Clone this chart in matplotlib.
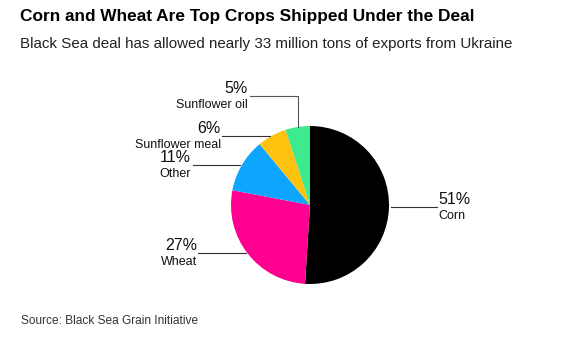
import numpy as np
import matplotlib
matplotlib.use("Agg")
import matplotlib.pyplot as plt

plt.rcParams["font.family"] = ["Liberation Sans", "DejaVu Sans"]

crops = ["Corn", "Wheat", "Other", "Sunflower meal", "Sunflower oil"]
shares = [51, 27, 11, 6, 5]
colors = ["#000000", "#ff0090", "#0ea5ff", "#ffc20e", "#3eea90"]

W, H = 573, 340
fig = plt.figure(figsize=(W / 100, H / 100), dpi=100)
ax = fig.add_axes([0, 0, 1, 1])

cx, cy, r = 310, H - 205, 79
wedges, _ = ax.pie(shares, colors=colors, startangle=90, counterclock=False,
                   center=(cx, cy), radius=r, frame=True,
                   wedgeprops=dict(linewidth=0))
ax.set_xlim(0, W)
ax.set_ylim(0, H)
ax.set_aspect("equal")
ax.axis("off")

# label layout: (line end x, text x, text alignment)
layout = {
    "Corn": (437, 438, "left"),
    "Wheat": (198, 197, "right"),
    "Other": (193, 191, "right"),
    "Sunflower meal": (222, 221, "right"),
    "Sunflower oil": (250, 248, "right"),
}

for w, name, pct in zip(wedges, crops, shares):
    mid = np.deg2rad((w.theta1 + w.theta2) / 2)
    px, py = cx + r * np.cos(mid), cy + r * np.sin(mid)
    lx, tx, ha = layout[name]
    if name == "Sunflower oil":
        # elbow line up and over to the label
        ly = H - 96
        ax.plot([px, px, lx], [py, ly, ly], color="#555555", lw=0.8)
    else:
        ly = py
        ax.plot([px + (2 if ha == "left" else -2), lx], [ly, ly],
                color="#333333", lw=0.8)
    ax.text(tx, ly, f"{pct}%", ha=ha, va="bottom", fontsize=11.5,
            color="#111111")
    ax.text(tx, ly - 3, name, ha=ha, va="top", fontsize=9, color="#111111")

fig.text(20 / W, 1 - 17 / H, "Corn and Wheat Are Top Crops Shipped Under the Deal",
         fontsize=12.4, fontweight="bold", va="center", ha="left")
fig.text(20 / W, 1 - 44 / H,
         "Black Sea deal has allowed nearly 33 million tons of exports from Ukraine",
         fontsize=10.9, va="center", ha="left", color="#222222")
fig.text(21 / W, 1 - 321 / H, "Source: Black Sea Grain Initiative",
         fontsize=8.6, va="center", ha="left", color="#333333")

fig.savefig("out.png", dpi=100)
